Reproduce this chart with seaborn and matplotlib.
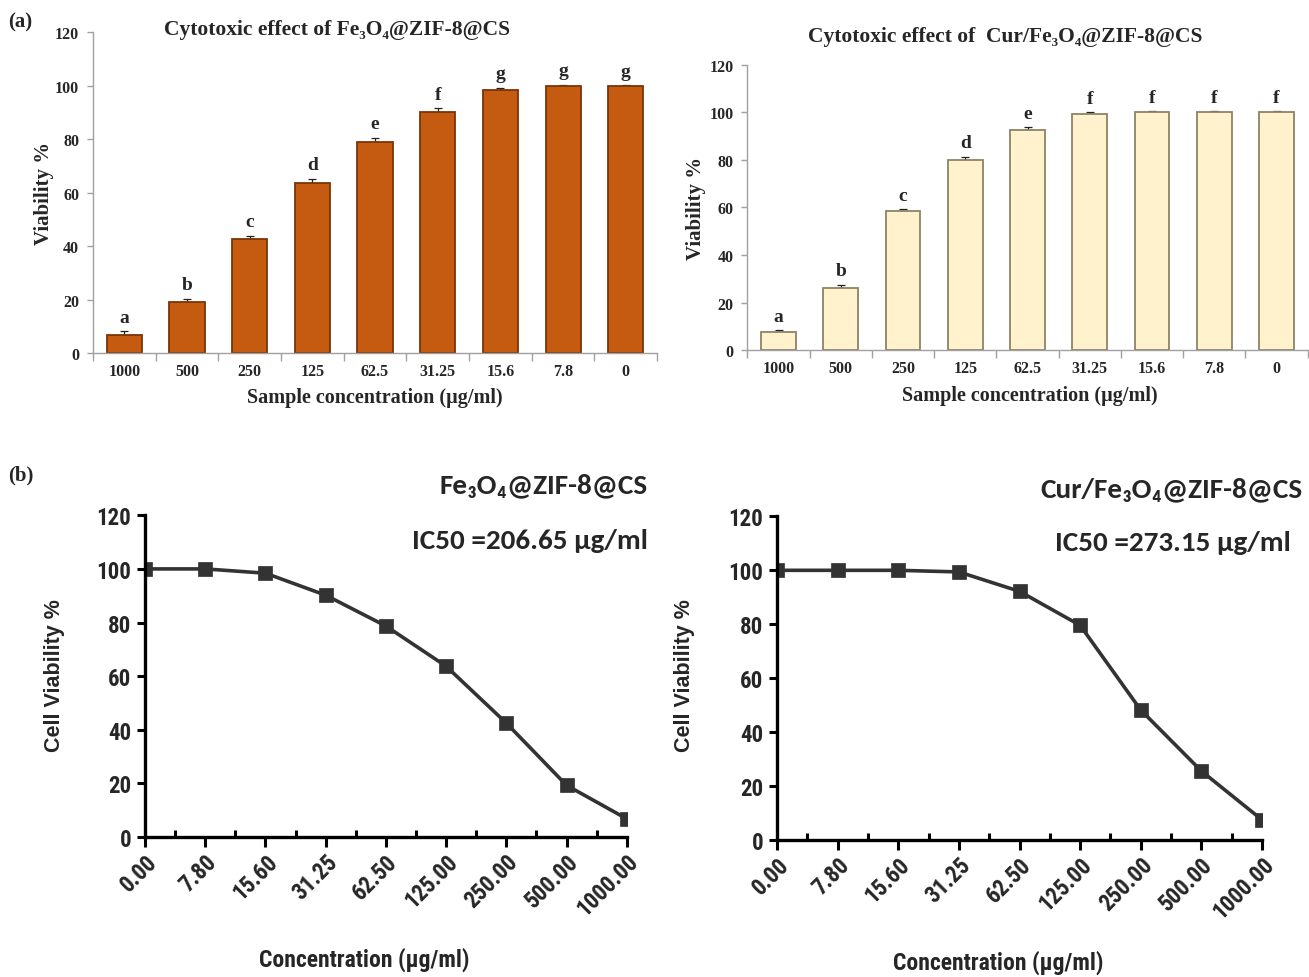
import matplotlib
matplotlib.use('Agg')
import matplotlib.pyplot as plt
from matplotlib.ticker import FixedLocator
import seaborn as sns
import pandas as pd
import numpy as np

# (a) bar charts, concentration descending
bar_labels = ['1000', '500', '250', '125', '62.5', '31.25', '15.6', '7.8', '0']
fe_bar = [6.8, 19.2, 42.5, 63.7, 78.8, 90.2, 98.3, 99.8, 99.8]
fe_err = [1.3, 0.9, 1.4, 1.5, 1.7, 1.3, 0.8, 0.4, 0.3]
fe_letters = ['a', 'b', 'c', 'd', 'e', 'f', 'g', 'g', 'g']
cur_bar = [7.6, 26.0, 58.6, 79.7, 92.3, 99.4, 100.0, 100.0, 100.0]
cur_err = [0.9, 1.5, 0.8, 1.6, 1.4, 0.6, 0.3, 0.3, 0.3]
cur_letters = ['a', 'b', 'c', 'd', 'e', 'f', 'f', 'f', 'f']

# (b) dose-response curves, concentration ascending
line_labels = ['0.00', '7.80', '15.60', '31.25', '62.50', '125.00', '250.00', '500.00', '1000.00']
fe_line = [100.0, 100.0, 98.4, 90.2, 78.7, 63.7, 42.5, 19.3, 6.8]
cur_line = [100.0, 100.0, 100.0, 99.4, 92.2, 79.6, 48.2, 25.6, 7.5]

sns.set_theme(style='white')
plt.rcParams['font.family'] = ['Liberation Serif', 'DejaVu Serif']

SERIF = ['Liberation Serif', 'DejaVu Serif']
NARROW = ['Roboto Condensed', 'Liberation Sans', 'DejaVu Sans']
SANS = ['Liberation Sans', 'DejaVu Sans']
CALIBRI = ['Carlito', 'DejaVu Sans']


def draw_bars(ax, values, errs, letters, color, edge):
    df = pd.DataFrame({'conc': bar_labels, 'viability': values})
    sns.barplot(data=df, x='conc', y='viability', order=bar_labels, color=color,
                saturation=1, width=0.56, edgecolor=edge, linewidth=1.3,
                errorbar=None, ax=ax, zorder=2)
    xs = [p.get_x() + p.get_width() / 2 for p in ax.patches]
    ax.errorbar(xs, values, yerr=[np.zeros(len(errs)), errs], fmt='none',
                ecolor='#222222', elinewidth=0.9, capsize=3, capthick=0.9, zorder=1)
    for x, v, e, t in zip(xs, values, errs, letters):
        ax.text(x, v + e + 2.2, t, ha='center', va='bottom', fontsize=14,
                fontweight='bold', family=SERIF)
    ax.set_xlim(-0.5, len(values) - 0.5)
    ax.set_ylim(0, 120)
    ax.set_yticks(range(0, 121, 20))
    for s in ['top', 'right']:
        ax.spines[s].set_visible(False)
    for s in ['left', 'bottom']:
        ax.spines[s].set_color('#a0a0a0')
        ax.spines[s].set_linewidth(1)
    ax.xaxis.set_minor_locator(FixedLocator(np.arange(-0.5, len(values), 1)))
    ax.tick_params(axis='x', which='major', length=0, pad=7)
    ax.tick_params(axis='x', which='minor', length=6, width=1, color='#a0a0a0', direction='out')
    ax.tick_params(axis='y', length=4, width=1, color='#a0a0a0', direction='out', pad=6)
    ax.tick_params(bottom=True, left=True)
    ax.tick_params(which='minor', bottom=True)
    for lab in ax.get_xticklabels() + ax.get_yticklabels():
        lab.set_fontsize(11.5)
        lab.set_fontweight('bold')
    ax.set_ylabel('Viability %', fontsize=15, fontweight='bold', labelpad=12)
    ax.set_xlabel('Sample concentration (µg/ml)', fontsize=14.5, fontweight='bold', labelpad=4)
    ax.grid(False)


def draw_curve(ax, values):
    df = pd.DataFrame({'conc': line_labels, 'viability': values})
    sns.pointplot(data=df, x='conc', y='viability', order=line_labels, color='#333333',
                  markers='s', markersize=8, linewidth=2.6, errorbar=None, ax=ax)
    ax.set_xlim(0, len(values) - 1)
    ax.set_ylim(0, 120)
    ax.set_yticks(range(0, 121, 20))
    for s in ['top', 'right']:
        ax.spines[s].set_visible(False)
    for s in ['left', 'bottom']:
        ax.spines[s].set_color('black')
        ax.spines[s].set_linewidth(2.4)
    ax.xaxis.set_minor_locator(FixedLocator(np.arange(0.5, len(values) - 1, 1)))
    ax.tick_params(axis='x', which='major', length=7, width=2.2, color='black', direction='out', pad=2)
    ax.tick_params(axis='x', which='minor', length=5, width=2.2, color='black', direction='in')
    ax.tick_params(axis='y', length=6, width=2.2, color='black', direction='out', pad=4)
    ax.tick_params(bottom=True, left=True)
    ax.tick_params(which='minor', bottom=True)
    ax.set_xticks(range(len(line_labels)))
    ax.set_xticklabels(line_labels, rotation=45, ha='right', rotation_mode='anchor')
    for lab in ax.get_xticklabels() + ax.get_yticklabels():
        lab.set_fontsize(16.5)
        lab.set_fontweight('bold')
        lab.set_family(NARROW)
    ax.set_ylabel('Cell Viability %', fontsize=15.5, fontweight='bold', family=SANS)
    ax.set_xlabel('Concentration (µg/ml)', fontsize=17, fontweight='bold', family=NARROW)
    ax.grid(False)


fig = plt.figure(figsize=(13.09, 9.78), dpi=100)

ax1 = fig.add_axes([0.071, 0.638, 0.431, 0.328])
draw_bars(ax1, fe_bar, fe_err, fe_letters, '#c55a11', '#7a3508')
ax1.yaxis.set_label_coords(-0.087, 0.5)
ax1.yaxis.label.set_va('center')
ax1.xaxis.set_label_coords(0.5, -0.137)
ax1.xaxis.label.set_va('center')

ax2 = fig.add_axes([0.571, 0.641, 0.428, 0.292])
draw_bars(ax2, cur_bar, cur_err, cur_letters, '#fff2cc', '#8c8466')
ax2.yaxis.set_label_coords(-0.091, 0.5)
ax2.yaxis.label.set_va('center')
ax2.xaxis.set_label_coords(0.504, -0.158)
ax2.xaxis.label.set_va('center')

fig.text(0.2575, 0.969, 'Cytotoxic effect of Fe₃O₄@ZIF-8@CS', ha='center', va='center',
         fontsize=15.5, fontweight='bold', family=SERIF)
fig.text(0.768, 0.962, 'Cytotoxic effect of  Cur/Fe₃O₄@ZIF-8@CS', ha='center', va='center',
         fontsize=15.5, fontweight='bold', family=SERIF)

ax3 = fig.add_axes([0.1108, 0.1431, 0.368, 0.329])
draw_curve(ax3, fe_line)
ax3.yaxis.set_label_coords(-0.187, 0.506)
ax3.yaxis.label.set_va('center')
ax3.xaxis.set_label_coords(0.456, -0.379)
ax3.xaxis.label.set_va('center')

ax4 = fig.add_axes([0.5936, 0.140, 0.3705, 0.331])
draw_curve(ax4, cur_line)
ax4.yaxis.set_label_coords(-0.19, 0.51)
ax4.yaxis.label.set_va('center')
ax4.xaxis.set_label_coords(0.456, -0.377)
ax4.xaxis.label.set_va('center')

fig.text(0.495, 0.503, 'Fe₃O₄@ZIF-8@CS', ha='right', va='center', fontsize=21,
         fontweight='bold', family=CALIBRI)
fig.text(0.495, 0.447, 'IC50 =206.65 µg/ml', ha='right', va='center', fontsize=21,
         fontweight='bold', family=CALIBRI)
fig.text(0.9954, 0.499, 'Cur/Fe₃O₄@ZIF-8@CS', ha='right', va='center', fontsize=21,
         fontweight='bold', family=CALIBRI)
fig.text(0.986, 0.445, 'IC50 =273.15 µg/ml', ha='right', va='center', fontsize=21,
         fontweight='bold', family=CALIBRI)

fig.text(0.006, 0.977, '(a)', ha='left', va='center', fontsize=15, fontweight='bold', family=SERIF)
fig.text(0.006, 0.514, '(b)', ha='left', va='center', fontsize=15, fontweight='bold', family=SERIF)

fig.savefig('out.png', dpi=100)
